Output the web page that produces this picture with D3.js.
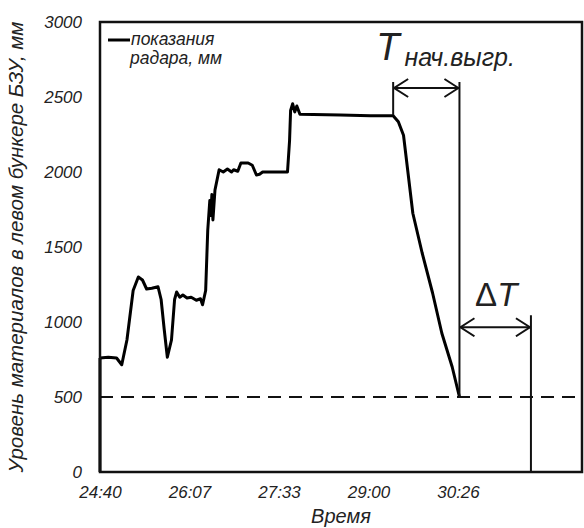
<!DOCTYPE html>
<html>
<head>
<meta charset="utf-8">
<script src="https://cdn.jsdelivr.net/npm/d3@7"></script>
<style>
  body { margin: 0; background: #fff; }
  text { font-family: "Liberation Sans", Arial, sans-serif; font-style: italic; fill: #222; }
</style>
</head>
<body>
<div id="chart"></div>
<script>
// время в секундах (мм:сс), уровень в мм
var radarTime = [1480, 1488, 1496, 1501, 1506, 1512, 1517, 1521, 1525, 1530, 1536, 1539, 1542, 1545, 1549,
  1552, 1554, 1557, 1560, 1564, 1568, 1573, 1577, 1579, 1582, 1584, 1586, 1587, 1588, 1589, 1591, 1595,
  1599, 1603, 1607, 1609, 1613, 1616, 1623, 1627, 1631, 1634, 1637, 1661, 1663, 1664, 1666, 1668, 1670,
  1673, 1712, 1741, 1763, 1768, 1773, 1782, 1791, 1801, 1810, 1820, 1827];
var radarLevel = [760, 765, 760, 715, 880, 1210, 1300, 1280, 1220, 1225, 1235, 1150, 950, 765, 880,
  1150, 1200, 1165, 1180, 1160, 1165, 1145, 1155, 1115, 1210, 1610, 1810, 1710, 1850, 1680, 1880, 2015,
  2000, 2020, 2000, 2015, 2005, 2060, 2060, 2045, 1980, 1985, 2000, 2000, 2210, 2410, 2455, 2400, 2440,
  2385, 2380, 2375, 2375, 2335, 2245, 1725, 1460, 1195, 925, 700, 500];

var tickTimes = [1480, 1566.4, 1652.8, 1739.2, 1825.6];
var tickLabels = ["24:40", "26:07", "27:33", "29:00", "30:26"];
var levelTicks = [0, 500, 1000, 1500, 2000, 2500, 3000];

var thresholdLevel = 500;
var unloadStart = 1763, unloadEnd = 1827, deltaEnd = 1896;
var unloadArrowLevel = 2560, unloadLineTop = 2600;
var deltaArrowLevel = 965, deltaLineTop = 1045;

var W = 584, H = 528;
var margin = {top: 22, right: 2, bottom: 56, left: 100};
var width = W - margin.left - margin.right;
var height = H - margin.top - margin.bottom;

var svg = d3.select("#chart").append("svg").attr("width", W).attr("height", H);

var defs = svg.append("defs");
defs.append("marker")
  .attr("id", "chev")
  .attr("viewBox", "0 0 16 20")
  .attr("refX", 15).attr("refY", 10)
  .attr("markerWidth", 16).attr("markerHeight", 20)
  .attr("markerUnits", "userSpaceOnUse")
  .attr("orient", "auto-start-reverse")
  .append("path")
  .attr("d", "M1,1 L15,10 L1,19")
  .attr("fill", "none").attr("stroke", "#111").attr("stroke-width", 2);

var g = svg.append("g").attr("transform", "translate(" + margin.left + "," + margin.top + ")");

var x = d3.scaleLinear().domain([1480, 1945.3]).range([0, width]);
var y = d3.scaleLinear().domain([0, 3000]).range([height, 0]);

// оси (подписи)
var xAxis = d3.axisBottom(x).tickValues(tickTimes)
  .tickFormat(function (d, i) { return tickLabels[i]; }).tickSize(0).tickPadding(14);
var gx = g.append("g").attr("transform", "translate(0," + height + ")").call(xAxis);
gx.select(".domain").remove();
gx.selectAll("text").style("font-size", "17px").style("font-family", null);

var yAxis = d3.axisLeft(y).tickValues(levelTicks).tickFormat(d3.format("d")).tickSize(0).tickPadding(18);
var gy = g.append("g").call(yAxis);
gy.select(".domain").remove();
gy.selectAll("text").style("font-size", "17px").style("font-family", null);

// порог 500 мм
g.append("line")
  .attr("x1", 0).attr("x2", width)
  .attr("y1", y(thresholdLevel)).attr("y2", y(thresholdLevel))
  .attr("stroke", "#111").attr("stroke-width", 2).attr("stroke-dasharray", "13,8");

// показания радара
var pts = radarTime.map(function (t, i) { return [t, radarLevel[i]]; });
var line = d3.line().x(function (d) { return x(d[0]); }).y(function (d) { return y(d[1]); });
g.append("path").datum(pts)
  .attr("d", line)
  .attr("fill", "none").attr("stroke", "#000").attr("stroke-width", 3)
  .attr("stroke-linejoin", "round");
// начало линии от оси
g.append("line")
  .attr("x1", x(radarTime[0])).attr("x2", x(radarTime[0]))
  .attr("y1", y(0)).attr("y2", y(radarLevel[0]))
  .attr("stroke", "#000").attr("stroke-width", 3);

// аннотация T нач.выгр.
function vline(t, top, bottom) {
  g.append("line")
    .attr("x1", x(t)).attr("x2", x(t))
    .attr("y1", y(top)).attr("y2", y(bottom))
    .attr("stroke", "#111").attr("stroke-width", 2);
}
vline(unloadStart, unloadLineTop, 2380);
vline(unloadEnd, unloadLineTop, thresholdLevel);
vline(deltaEnd, deltaLineTop, 0);

function arrow(t1, t2, lev) {
  g.append("line")
    .attr("x1", x(t1) + 1).attr("x2", x(t2) - 1)
    .attr("y1", y(lev)).attr("y2", y(lev))
    .attr("stroke", "#111").attr("stroke-width", 2)
    .attr("marker-start", "url(#chev)").attr("marker-end", "url(#chev)");
}
arrow(unloadStart, unloadEnd, unloadArrowLevel);
arrow(unloadEnd, deltaEnd, deltaArrowLevel);

var tLabel = g.append("text")
  .attr("x", x(unloadStart) - 17).attr("y", y(unloadArrowLevel) - 28);
tLabel.append("tspan").style("font-size", "38px").text("T");
tLabel.append("tspan").attr("dx", 5).attr("dy", 6).style("font-size", "25px").text("нач.выгр.");

var dLabel = g.append("text")
  .attr("x", (x(unloadEnd) + x(deltaEnd)) / 2 + 1).attr("y", y(deltaLineTop) - 9)
  .attr("text-anchor", "middle").style("font-size", "33px");
dLabel.append("tspan").style("font-style", "normal").text("\u0394");
dLabel.append("tspan").text("T");

// рамка
g.append("rect")
  .attr("x", 0).attr("y", 0).attr("width", width).attr("height", height)
  .attr("fill", "none").attr("stroke", "#111").attr("stroke-width", 2.5);

// легенда
g.append("line").attr("x1", 8).attr("x2", 30).attr("y1", 18).attr("y2", 18)
  .attr("stroke", "#000").attr("stroke-width", 3);
g.append("text").attr("x", 31).attr("y", 23).style("font-size", "17.5px").text("показания");
g.append("text").attr("x", 30).attr("y", 42).style("font-size", "17.5px").text("радара, мм");

// подписи осей
svg.append("text")
  .attr("x", margin.left + width / 2).attr("y", H - 5)
  .attr("text-anchor", "middle").style("font-size", "20px").text("Время");
svg.append("text")
  .attr("transform", "translate(23," + (margin.top + height / 2) + ") rotate(-90)")
  .attr("text-anchor", "middle").style("font-size", "20.5px")
  .text("Уровень материалов в левом бункере БЗУ, мм");
</script>
</body>
</html>
